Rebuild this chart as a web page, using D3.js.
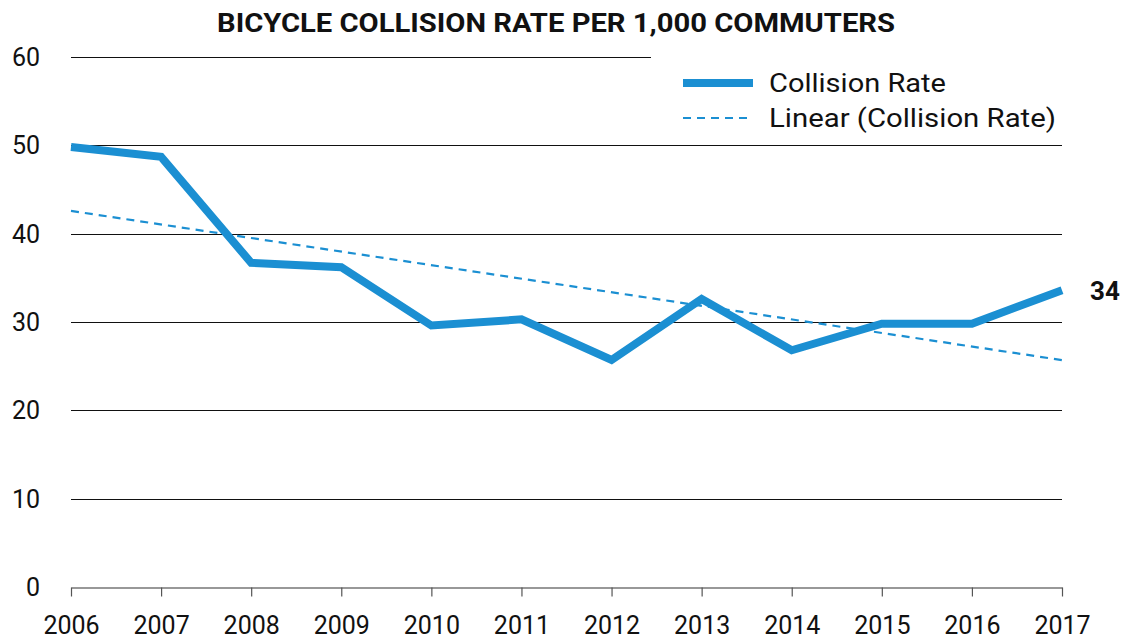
<!DOCTYPE html>
<html>
<head>
<meta charset="utf-8">
<script src="https://cdn.jsdelivr.net/npm/d3@7"></script>
<style>
  body { margin: 0; background: #fff; }
  svg text { font-family: Roboto, "DejaVu Sans", sans-serif; fill: #111; }
</style>
</head>
<body>
<div id="chart"></div>
<script>
// chart data
var years = [2006, 2007, 2008, 2009, 2010, 2011, 2012, 2013, 2014, 2015, 2016, 2017];
var collisionRate = [49.8, 48.7, 36.7, 36.2, 29.6, 30.3, 25.7, 32.6, 26.8, 29.8, 29.8, 33.6];
var yTicks = [0, 10, 20, 30, 40, 50, 60];
var title = "BICYCLE COLLISION RATE PER 1,000 COMMUTERS";
var endLabel = "34";
var blue = "#1b8fd2";

var width = 1127, height = 640;
var margin = {top: 57, right: 65, bottom: 53, left: 71};

var svg = d3.select("#chart").append("svg")
  .attr("width", width)
  .attr("height", height);

var x = d3.scaleLinear().domain([2006, 2017]).range([margin.left, width - margin.right]);
var y = d3.scaleLinear().domain([0, 60]).range([height - margin.bottom, margin.top]);

/** title (DIN-like width in the original, so stretch it) */
svg.append("text")
  .attr("x", 217)
  .attr("y", 32)
  .attr("textLength", 678)
  .attr("lengthAdjust", "spacingAndGlyphs")
  .style("font-weight", "bold")
  .style("font-size", "26px")
  .text(title);

/** horizontal gridlines */
svg.append("g")
  .selectAll("line")
  .data(yTicks.filter(function(d) { return d > 0; }))
  .enter().append("line")
    .attr("x1", x(2006))
    .attr("x2", x(2017))
    .attr("y1", function(d) { return Math.round(y(d)) + 0.5; })
    .attr("y2", function(d) { return Math.round(y(d)) + 0.5; })
    .attr("stroke", "#111")
    .attr("stroke-width", 1.2);

/** y tick labels */
svg.append("g")
  .selectAll("text")
  .data(yTicks)
  .enter().append("text")
    .attr("x", 40)
    .attr("y", function(d) { return y(d); })
    .attr("dy", "0.36em")
    .attr("text-anchor", "end")
    .style("font-size", "25px")
    .text(function(d) { return d; });

/** x axis */
var xAxis = svg.append("g")
  .attr("transform", "translate(0," + (Math.round(y(0)) + 0.5) + ")")
  .call(d3.axisBottom(x).tickValues(years).tickFormat(d3.format("d")).tickSize(9).tickSizeOuter(0));
xAxis.select(".domain").attr("stroke", "#333").attr("stroke-width", 1.2);
xAxis.selectAll(".tick line").attr("stroke", "#555").attr("stroke-width", 1.2);
xAxis.selectAll(".tick text")
  .attr("y", 29)
  .attr("dy", "0.71em")
  .style("font-size", "25px")
  .style("font-family", "Roboto, sans-serif")
  .attr("fill", "#111");

/** linear trend (least squares fit of the collision rate) */
var n = years.length;
var mx = d3.mean(years), my = d3.mean(collisionRate);
var sxy = d3.sum(years, function(d, i) { return (d - mx) * (collisionRate[i] - my); });
var sxx = d3.sum(years, function(d) { return (d - mx) * (d - mx); });
var slope = sxy / sxx;
var intercept = my - slope * mx;
var trend = [years[0], years[n - 1]].map(function(d) { return {year: d, value: intercept + slope * d}; });

var line = d3.line()
  .x(function(d) { return x(d.year); })
  .y(function(d) { return y(d.value); });

svg.append("path")
  .datum(trend)
  .attr("d", line)
  .attr("fill", "none")
  .attr("stroke", blue)
  .attr("stroke-width", 2.2)
  .attr("stroke-dasharray", "8,6");

/** legend (white box hides the top gridline behind it) */
var legend = svg.append("g");
legend.append("rect")
  .attr("x", 651).attr("y", 50)
  .attr("width", 420).attr("height", 88)
  .attr("fill", "#fff");
legend.append("line")
  .attr("x1", 683).attr("x2", 753)
  .attr("y1", 83).attr("y2", 83)
  .attr("stroke", blue).attr("stroke-width", 8);
legend.append("line")
  .attr("x1", 683).attr("x2", 753)
  .attr("y1", 118).attr("y2", 118)
  .attr("stroke", blue).attr("stroke-width", 2.2)
  .attr("stroke-dasharray", "8,6");
legend.append("text")
  .attr("x", 769).attr("y", 83).attr("dy", "0.36em")
  .attr("textLength", 177)
  .attr("lengthAdjust", "spacingAndGlyphs")
  .style("font-size", "26px")
  .text("Collision Rate");
legend.append("text")
  .attr("x", 769).attr("y", 118).attr("dy", "0.36em")
  .attr("textLength", 287)
  .attr("lengthAdjust", "spacingAndGlyphs")
  .style("font-size", "26px")
  .text("Linear (Collision Rate)");

/** collision rate line */
var series = years.map(function(d, i) { return {year: d, value: collisionRate[i]}; });
svg.append("path")
  .datum(series)
  .attr("d", line)
  .attr("fill", "none")
  .attr("stroke", blue)
  .attr("stroke-width", 8)
  .attr("stroke-linejoin", "miter");

/** end label */
svg.append("text")
  .attr("x", 1090)
  .attr("y", y(collisionRate[n - 1]))
  .attr("dy", "0.36em")
  .style("font-size", "26px")
  .style("font-weight", "bold")
  .text(endLabel);
</script>
</body>
</html>
